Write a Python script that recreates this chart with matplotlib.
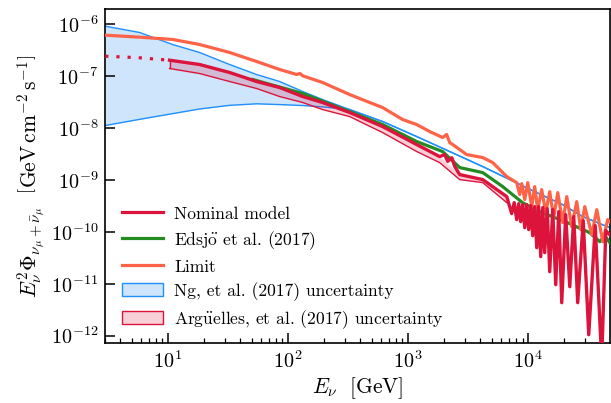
import numpy as np
import matplotlib
matplotlib.use("Agg")
from matplotlib import pyplot as plt
from matplotlib.lines import Line2D
from matplotlib.patches import Patch
from matplotlib.ticker import NullLocator

plt.rcParams["font.family"] = "serif"
plt.rcParams["font.serif"] = ["cmr10"]
plt.rcParams["mathtext.fontset"] = "cm"
plt.rcParams["axes.formatter.use_mathtext"] = True

# --- Datos (log10 E [GeV], log10 E^2 Phi) ---
# Ng et al. (2017) banda de incertidumbre
ng_logE = [0.478, 0.764, 1.039, 1.264, 1.514, 1.739, 1.931, 2.123, 2.289, 2.514,
           2.789, 3.073, 3.348, 3.623, 3.848, 4.073, 4.289, 4.456, 4.681]
ng_hi = [-6.033, -6.154, -6.386, -6.540, -6.772, -6.965, -7.100, -7.293, -7.448, -7.641,
         -7.872, -8.162, -8.451, -8.741, -8.992, -9.243, -9.475, -9.706, -9.919]
ng_lo = [-7.949, -7.830, -7.720, -7.630, -7.560, -7.530, -7.545, -7.563, -7.590, -7.641,
         -7.872, -8.162, -8.451, -8.741, -8.992, -9.243, -9.475, -9.706, -9.919]

# Limite
lim_logE = [0.478, 0.764, 1.039, 1.264, 1.514, 1.739, 1.931, 2.073, 2.100, 2.123,
            2.289, 2.514, 2.681, 2.789, 2.956, 3.073, 3.181, 3.289, 3.322, 3.348,
            3.373, 3.489, 3.623, 3.706, 3.823, 3.906,
            3.931, 3.948, 3.973, 3.998, 4.031, 4.056, 4.081, 4.114, 4.148, 4.181,
            4.214, 4.248, 4.289, 4.323, 4.364, 4.406, 4.439, 4.473, 4.531, 4.573,
            4.623, 4.664, 4.681]
lim_val = [-6.206, -6.245, -6.289, -6.386, -6.540, -6.714, -6.868, -6.965, -6.945, -6.990,
           -7.119, -7.351, -7.505, -7.602, -7.834, -7.930, -8.065, -8.181, -8.120, -8.280,
           -8.316, -8.509, -8.567, -8.664, -8.934, -9.050,
           -9.281, -9.069, -9.378, -9.050, -9.513, -9.127, -9.571, -9.185, -9.629, -9.224,
           -9.725, -9.243, -9.822, -9.320, -9.899, -9.417, -9.957, -9.513, -10.054, -9.571,
           -10.189, -9.764, -9.803]

# Edsjo et al. (2017)
eds_logE = [1.706, 2.123, 2.514, 2.789, 3.073, 3.289, 3.431, 3.623, 3.789, 3.956,
            4.098, 4.306, 4.514, 4.598, 4.639, 4.681]
eds_val = [-7.061, -7.332, -7.679, -7.930, -8.258, -8.451, -8.760, -8.857, -9.127, -9.440,
           -9.610, -9.800, -10.015, -10.189, -10.073, -10.208]

# Modelo nominal (parte extrapolada punteada)
nom_dot_logE = [0.478, 0.750, 1.014]
nom_dot_val = [-6.612, -6.640, -6.689]

nom_logE = [1.014, 1.264, 1.514, 1.739, 1.931, 2.123, 2.289, 2.514, 2.789, 3.073,
            3.264, 3.306, 3.331, 3.365, 3.390, 3.431, 3.623, 3.823,
            3.864, 3.885, 3.906, 3.923, 3.939, 3.956, 3.973, 3.989, 4.006, 4.023,
            4.039, 4.056, 4.073, 4.089, 4.106, 4.123, 4.139, 4.160, 4.181, 4.206,
            4.231, 4.256, 4.281, 4.314, 4.348, 4.381, 4.414, 4.460, 4.506, 4.560,
            4.614, 4.648, 4.681]
nom_val = [-6.689, -6.772, -6.926, -7.100, -7.216, -7.390, -7.505, -7.698, -7.969, -8.316,
           -8.548, -8.510, -8.640, -8.570, -8.740, -8.895, -8.992, -9.320,
           -9.648, -9.436, -9.764, -9.455, -9.803, -9.475, -9.919, -9.475, -9.957, -9.494,
           -10.073, -9.513, -10.305, -9.513, -10.478, -9.532, -10.401, -9.552, -10.768, -9.571,
           -11.019, -9.610, -11.366, -9.668, -11.058, -9.706, -11.366, -9.783, -11.984, -9.880,
           -12.467, -9.976, -10.054]

# Arguelles et al. (2017) banda (borde inferior)
arg_logE = [1.014, 1.264, 1.514, 1.739, 1.931, 2.123, 2.289, 2.514, 2.789, 3.073,
            3.264, 3.431, 3.623, 3.823]
arg_lo = [-6.849, -6.946, -7.100, -7.235, -7.390, -7.505, -7.641, -7.776, -8.085, -8.451,
          -8.664, -8.992, -9.050, -9.436]

y_decades = [-12, -11, -10, -9, -8, -7, -6]

c_nom = "#dc143c"
c_eds = "#228b22"
c_lim = "#ff6347"
c_ng = "#1e90ff"

p = lambda a: 10 ** np.array(a, dtype=float)

fig = plt.figure(figsize=(6.11, 4.03), dpi=100)
ax = fig.add_axes([0.172, 0.149, 0.826, 0.829])

# Banda Ng
ax.fill_between(p(ng_logE), p(ng_lo), p(ng_hi), color="#cfe5fb", lw=0, zorder=1)
ax.plot(p(ng_logE), p(ng_hi), c=c_ng, lw=1.0, zorder=2)
ax.plot(p(ng_logE), p(ng_lo), c=c_ng, lw=1.0, zorder=2)

# Edsjo
ax.plot(p(eds_logE), p(eds_val), c=c_eds, lw=2.3, zorder=3)

# Limite
ax.plot(p(lim_logE), p(lim_val), c=c_lim, lw=2.3, zorder=4)

# Banda Arguelles + nominal
nom_band = np.interp(arg_logE, nom_logE, nom_val)
ax.fill_between(p(arg_logE), p(arg_lo), p(nom_band), facecolor=c_nom, alpha=0.2,
                lw=0, zorder=5)
ax.plot(p(arg_logE), p(arg_lo), c=c_nom, lw=1.0, zorder=5)
ax.plot([p(arg_logE)[0]] * 2, [p(arg_lo)[0], p(nom_band)[0]], c=c_nom, lw=1.0, zorder=5)
ax.plot(p(nom_logE), p(nom_val), c=c_nom, lw=2.4, zorder=6)
ax.plot(p(nom_dot_logE), p(nom_dot_val), c=c_nom, lw=2.3, ls=(0, (1, 2.5)), zorder=6)

ax.set_xscale("log")
ax.set_yscale("log")
ax.set_xlim(3.0, 4.8e4)
ax.set_ylim(7.2e-13, 2.0e-6)
ax.set_yticks(p(y_decades))
ax.yaxis.set_minor_locator(NullLocator())
ax.tick_params(which="both", direction="in", top=False, right=False, labelsize=14.5)
ax.tick_params(which="major", length=7.5, width=1.1, pad=5)
ax.tick_params(which="minor", length=3.8, width=0.9)
for s in ax.spines.values():
    s.set_linewidth(1.2)

ax.set_xlabel(r"$E_\nu\ \ [\mathrm{GeV}]$", fontsize=15.5, labelpad=3)
ax.set_ylabel(r"$E_\nu^2\Phi_{\nu_\mu+\bar{\nu}_\mu}\ \ \left[\mathrm{GeV\,cm^{-2}\,s^{-1}}\right]$",
              fontsize=15.5, labelpad=2)

handles = [
    Line2D([], [], c=c_nom, lw=2.3),
    Line2D([], [], c=c_eds, lw=2.3),
    Line2D([], [], c=c_lim, lw=2.3),
    Patch(facecolor="#cfe5fb", edgecolor=c_ng, lw=1.0),
    Patch(facecolor=c_nom + "33", edgecolor=c_nom, lw=1.0),
]
labels = ["Nominal model", r"Edsj$\ddot{\mathrm{o}}$ et al. (2017)", "Limit",
          "Ng, et al. (2017) uncertainty", r"Arg$\ddot{\mathrm{u}}$elles, et al. (2017) uncertainty"]
ax.legend(handles, labels, loc="lower left", bbox_to_anchor=(0.01, 0.0), frameon=False,
          fontsize=12.6, handlelength=2.3, handleheight=0.8, handletextpad=0.65,
          labelspacing=0.42, borderaxespad=0.3)

fig.savefig("out.png", dpi=100)
